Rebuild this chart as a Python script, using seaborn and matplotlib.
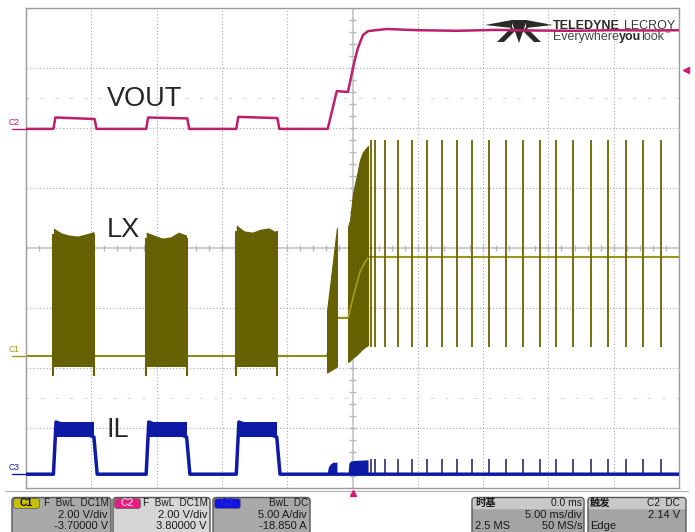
import numpy as np
import pandas as pd
import seaborn as sns
import matplotlib.pyplot as plt
from matplotlib.patches import FancyBboxPatch, Polygon

# ---------------- channel settings ----------------
c1_scale, c1_offset = 2.0, -3.70     # LX   (V/div)
c2_scale, c2_offset = 2.0, 3.80      # VOUT (V/div)
c3_scale, c3_offset = 5.0, -18.85    # IL   (A/div)
trig_level = 2.14                    # V on C2

# ---------------- hiccup bursts (ms) ----------------
burst_start = [-22.9, -15.8, -8.9]
burst_end = [-19.8, -12.7, -5.8]

# VOUT (V)
vout_t = [-25, -22.9, -22.75, -19.75, -19.6, -15.8, -15.65, -12.65, -12.5, -8.9, -8.75, -5.75,
          -5.6, -1.9, -1.2, -0.35, 0.05, 0.4, 0.8, 1.2, 2.6, 5, 8, 11, 14, 17, 20, 23, 25]
vout_v = [0.17, 0.17, 0.55, 0.50, 0.17, 0.17, 0.55, 0.52, 0.17, 0.17, 0.57, 0.53,
          0.17, 0.17, 1.43, 1.40, 2.23, 2.85, 3.30, 3.43, 3.50, 3.46, 3.44, 3.47, 3.45, 3.44, 3.46, 3.45, 3.46]

# LX (V)
lx_idle = 0.10
lx_burst_top = [[4.37, 4.20, 4.13, 4.10, 4.17, 4.25],
                [4.23, 4.13, 4.03, 4.07, 4.23, 4.13],
                [4.47, 4.27, 4.23, 4.33, 4.37, 4.23]]
lx_burst_bottom = -0.25
lx_edge_dip = -0.55
lx_ss1_t = [-1.95, -1.19]
lx_ss1_top = [1.60, 4.37]
lx_ss1_bot = [-0.45, -0.25]
lx_hold = 1.37
lx_ss2_t = [-0.34, -0.19, 0.04, 0.34, 0.57, 0.80, 1.19]
lx_ss2_top = [4.40, 4.63, 5.53, 6.13, 6.63, 6.90, 7.10]
lx_ss2_bot = [-0.10, -0.05, 0.05, 0.15, 0.25, 0.35, 0.47]
lx_avg_t = [-0.34, 0.19, 0.57, 0.96, 1.19]
lx_avg_v = [1.37, 2.30, 2.90, 3.23, 3.37]
lx_settle = 3.40
spike_t = [1.42, 1.72, 2.49, 3.48, 4.56, 5.71, 6.86, 8.00, 9.15, 10.45, 11.75, 13.05,
           14.36, 15.59, 16.89, 18.27, 19.57, 20.95, 22.25, 23.62]
lx_spike_hi, lx_spike_lo = 7.30, 0.40

# IL (A)
il_band_lo, il_band_hi = 3.10, 4.35
il_bump1_t = [-1.95, -1.85, -1.7, -1.5, -1.19]
il_bump1_v = [0.0, 0.6, 0.85, 1.0, 1.0]
il_bump2_t = [-0.34, -0.28, -0.15, 0.2, 1.19]
il_bump2_v = [0.0, 0.9, 1.1, 1.15, 1.2]
il_spike = 1.25


def to_div(v, scale, offset):
    return (np.asarray(v, dtype=float) + offset) / scale


vout_col = '#bd1f6c'
lx_fill = '#656000'
lx_line = '#8f8a1a'
il_col = '#0c1aa6'
grid_col = '#a8a8a8'

sns.set_style("white")
plt.rcParams['font.family'] = ['Liberation Sans', 'DejaVu Sans']

fig = plt.figure(figsize=(6.95, 5.32), dpi=100)
fig.patch.set_facecolor('white')

# overlay in pixel coordinates (logo, status bar)
ov = fig.add_axes([0, 0, 1, 1], zorder=0)
ov.set_xlim(0, 695)
ov.set_ylim(532, 0)
ov.axis('off')

ax = fig.add_axes([26 / 695, 44 / 532, 653 / 695, 480 / 532], zorder=1)
ax.patch.set_alpha(0)
ax.set_xlim(-25, 25)
ax.set_ylim(-4, 4)
ax.set_xticks([])
ax.set_yticks([])
for sp in ax.spines.values():
    sp.set_color('#9a9a9a')
    sp.set_linewidth(1)

# graticule
for t in np.arange(-20, 21, 5):
    if t != 0:
        ax.axvline(t, color=grid_col, lw=0.8, ls=(0, (1, 2)), zorder=0)
for v in [-3, -2, -1, 1, 2, 3]:
    ax.axhline(v, color=grid_col, lw=0.8, ls=(0, (1, 2)), zorder=0)
for v in [-2.5, 2.5]:
    ax.axhline(v, color='#dadada', lw=0.8, ls=(0, (3, 10)), zorder=0)
ax.axhline(0, color='#c4c4c4', lw=1.2, zorder=0)
ax.axvline(0, color='#c4c4c4', lw=1.2, zorder=0)
tx = np.arange(-25, 25.01, 1)
ax.vlines(tx, -0.05, 0.05, color='#b8b8b8', lw=1, zorder=0)
ty = np.arange(-4, 4.01, 0.2)
ax.hlines(ty, -0.23, 0.23, color='#b8b8b8', lw=1, zorder=0)

# ---------------- LX (C1) ----------------
sns.lineplot(x=[-25, -1.95], y=to_div([lx_idle, lx_idle], c1_scale, c1_offset),
             color=lx_line, lw=1.5, ax=ax, zorder=2)
sns.lineplot(x=[-1.95, -1.19, -0.34], y=to_div([lx_idle, lx_hold, lx_hold], c1_scale, c1_offset),
             color=lx_line, lw=1.5, ax=ax, zorder=2, sort=False, estimator=None)
sns.lineplot(x=[1.19, 25], y=to_div([lx_settle, lx_settle], c1_scale, c1_offset),
             color='#9a9420', lw=1.5, ax=ax, zorder=2)
for s, e, top in zip(burst_start, burst_end, lx_burst_top):
    ts = np.linspace(s, e, len(top))
    ax.fill_between(ts, to_div(lx_burst_bottom, c1_scale, c1_offset),
                    to_div(top, c1_scale, c1_offset), color=lx_fill, lw=0, zorder=3)
    ax.vlines([s, e], to_div(lx_edge_dip, c1_scale, c1_offset),
              to_div(top[0], c1_scale, c1_offset) - 0.1, color=lx_fill, lw=1.5, zorder=3)
ax.fill_between(lx_ss1_t, to_div(lx_ss1_bot, c1_scale, c1_offset),
                to_div(lx_ss1_top, c1_scale, c1_offset), color=lx_fill, lw=0.8,
                edgecolor=lx_fill, zorder=3)
ax.fill_between(lx_ss2_t, to_div(lx_ss2_bot, c1_scale, c1_offset),
                to_div(lx_ss2_top, c1_scale, c1_offset), color=lx_fill, lw=0.8,
                edgecolor=lx_fill, zorder=3)
sns.lineplot(x=lx_avg_t, y=to_div(lx_avg_v, c1_scale, c1_offset), color='#a59e1c',
             lw=1.2, ax=ax, zorder=4, sort=False, estimator=None)
ax.vlines(spike_t, to_div(lx_spike_lo, c1_scale, c1_offset),
          to_div(lx_spike_hi, c1_scale, c1_offset), color='#6a6500', lw=1.3, zorder=3)

# ---------------- IL (C3) ----------------
il_t, il_v = [-25.0], [0.0]
for s, e in zip(burst_start, burst_end):
    il_t += [s, s + 0.2, e, e + 0.25]
    il_v += [0.0, il_band_hi, il_band_lo, 0.0]
il_t += [25.0]
il_v += [0.0]
ax.vlines(spike_t, to_div(0, c3_scale, c3_offset), to_div(il_spike, c3_scale, c3_offset),
          color='#2b2e66', lw=1.2, zorder=3)
for s, e in zip(burst_start, burst_end):
    ax.fill_between([s + 0.2, e], to_div(il_band_lo, c3_scale, c3_offset),
                    to_div(il_band_hi, c3_scale, c3_offset), color=il_col, lw=0, zorder=3)
ax.fill_between(il_bump1_t, to_div(0, c3_scale, c3_offset),
                to_div(il_bump1_v, c3_scale, c3_offset), color=il_col, lw=0, zorder=3)
ax.fill_between(il_bump2_t, to_div(0, c3_scale, c3_offset),
                to_div(il_bump2_v, c3_scale, c3_offset), color=il_col, lw=0, zorder=3)
sns.lineplot(x=il_t, y=to_div(il_v, c3_scale, c3_offset), color=il_col, lw=2.5,
             ax=ax, zorder=4, sort=False, estimator=None)

# ---------------- VOUT (C2) ----------------
sns.lineplot(x=vout_t, y=to_div(vout_v, c2_scale, c2_offset), color=vout_col, lw=1.8,
             ax=ax, zorder=5, sort=False, estimator=None)

# channel markers / labels
yx = ax.get_yaxis_transform()
for name, lvl, col in [('C2', to_div(0.17, c2_scale, c2_offset), vout_col),
                       ('C1', to_div(lx_idle, c1_scale, c1_offset), '#a09a10'),
                       ('C3', to_div(0, c3_scale, c3_offset), il_col)]:
    ax.text(-0.018, lvl + 0.03, name, transform=yx, fontsize=6.2, color=col,
            ha='center', va='bottom', clip_on=False)
    ax.plot([-0.022, 0.0], [lvl, lvl], transform=yx, color=col, lw=1, clip_on=False)

ax.plot([1.0107], [to_div(trig_level, c2_scale, c2_offset)], marker='<', color='#d21a78',
        ms=5, transform=yx, clip_on=False)
ax.plot([0], [-0.01], marker='^', color='#d21a78', ms=5,
        transform=ax.get_xaxis_transform(), clip_on=False)

ax.text(0.124, 0.81, 'VOUT', transform=ax.transAxes, fontsize=19.5, va='center', ha='left')
ax.text(0.124, 0.5375, 'LX', transform=ax.transAxes, fontsize=19.5, va='center', ha='left')
ax.text(0.124, 0.121, 'IL', transform=ax.transAxes, fontsize=19.5, va='center', ha='left')

# ---------------- logo ----------------
logo_col = '#2a2a2a'
for pts in [[(485, 25), (512, 20), (512, 28)],
            [(553, 25), (526, 20), (526, 28)],
            [(511, 20), (527, 20), (519, 43)],
            [(512, 27), (497, 42), (504, 42), (515, 31)],
            [(526, 27), (541, 42), (534, 42), (523, 31)]]:
    ov.add_patch(Polygon(pts, closed=True, color=logo_col, lw=0))
t1 = ov.text(553, 26, 'TELEDYNE', fontsize=9, fontweight='bold', color=logo_col, va='center')
ov.text(675, 26, 'LECROY', fontsize=9, color='#3a3a3a', va='center', ha='right')
e1 = ov.text(553, 37, 'Everywhere', fontsize=9, color='#444444', va='center')
e2 = ov.annotate('you', xy=(1, 0), xycoords=e1, fontsize=9, fontweight='bold',
                 color='#2a2a2a', va='bottom')
e3 = ov.annotate('look', xy=(1, 0), xycoords=e2, fontsize=9, color='#444444', va='bottom')
ov.annotate('\u2122', xy=(1, 0.6), xycoords=e3, fontsize=4, color='#444444', va='bottom')

# ---------------- status bar ----------------
ov.plot([5, 688], [491, 491], color='#b0b0b0', lw=0.8)


def box(x0, x1, body, head=None, y0=497.5, y1=540):
    ov.add_patch(FancyBboxPatch((x0, y0), x1 - x0, y1 - y0,
                                boxstyle='round,pad=0,rounding_size=3',
                                fc=body, ec='#555555', lw=1))
    if head is not None:
        ov.add_patch(FancyBboxPatch((x0 + 0.8, y0 + 0.8), x1 - x0 - 1.6, 11,
                                    boxstyle='round,pad=0,rounding_size=2',
                                    fc=head, ec='none'))


def badge(x0, x1, col, txt, tcol):
    ov.add_patch(FancyBboxPatch((x0, 498.5), x1 - x0, 10,
                                boxstyle='round,pad=0,rounding_size=2.5',
                                fc=col, ec='#666666', lw=0.6))
    ov.text((x0 + x1) / 2, 503.3, txt, fontsize=7.6, fontweight='bold', color=tcol,
            ha='center', va='center')


fs = 7.4
txt_col = '#1a1a1a'
y_h, y_l1, y_l2 = 503.0, 514.6, 526.0
chan_boxes = [(12, 111, '#a9a9a9', '#c9c000', 'C1', '#111111', 'F  BwL  DC1M', '2.00 V/div', '-3.70000 V'),
              (113, 210, '#d6d6d6', '#ea1c80', 'C2', '#ffb0d8', 'F  BwL  DC1M', '2.00 V/div', '3.80000 V'),
              (213, 310, '#a9a9a9', '#1212e6', 'C3', '#2424c8', 'BwL  DC', '5.00 A/div', '-18.850 A')]
for x0, x1, body, bcol, name, tcol, head, l1, l2 in chan_boxes:
    box(x0, x1, body)
    badge(x0 + 1.5, x0 + 27.5, bcol, name, tcol)
    ov.text(x1 - 2, y_h, head, fontsize=7.2, color=txt_col, ha='right', va='center')
    ov.text(x1 - 3, y_l1, l1, fontsize=fs + 0.6, color=txt_col, ha='right', va='center')
    ov.text(x1 - 3, y_l2, l2, fontsize=fs + 0.6, color=txt_col, ha='right', va='center')

cjk = ['Noto Sans CJK SC', 'DejaVu Sans']
box(472, 584, '#a4a4a4', '#c8c8c8')
ov.text(475, y_h, '时基', fontsize=7.4, fontweight='bold', family=cjk, color=txt_col, va='center')
ov.text(582, y_h, '0.0 ms', fontsize=fs, color=txt_col, ha='right', va='center')
ov.text(582, y_l1, '5.00 ms/div', fontsize=fs + 0.6, color=txt_col, ha='right', va='center')
ov.text(475, y_l2, '2.5 MS', fontsize=fs + 0.6, color=txt_col, va='center')
ov.text(582, y_l2, '50 MS/s', fontsize=fs + 0.6, color=txt_col, ha='right', va='center')

box(588, 686, '#a4a4a4', '#c8c8c8')
ov.text(590, y_h, '触发', fontsize=7.4, fontweight='bold', family=cjk, color=txt_col, va='center')
ov.text(680, y_h, 'C2  DC', fontsize=7.2, color=txt_col, ha='right', va='center')
ov.text(680, y_l1, '2.14 V', fontsize=fs + 0.6, color=txt_col, ha='right', va='center')
ov.text(590, y_l2, 'Edge', fontsize=fs + 0.6, color=txt_col, va='center')

plt.savefig('out.png', dpi=100)
plt.close()
